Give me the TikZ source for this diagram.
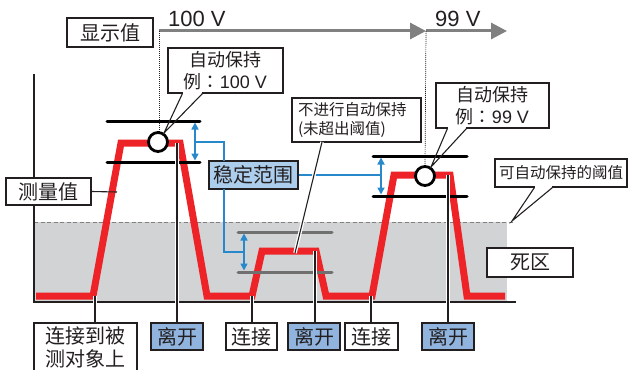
\documentclass[tikz,border=0pt]{standalone}
\usepackage{fontspec}
\setmainfont{Noto Sans CJK SC}
\newfontfamily\hv{Liberation Sans}
\newfontfamily\jpf{Noto Sans CJK JP}
\usetikzlibrary{arrows.meta,calc}
\definecolor{redl}{RGB}{237,35,39}
\definecolor{bluel}{RGB}{40,136,204}
\definecolor{fillA}{RGB}{172,206,236}
\definecolor{fillB}{RGB}{145,180,222}
\definecolor{graybg}{RGB}{209,211,212}
\definecolor{grayar}{RGB}{128,128,128}
\definecolor{graylim}{RGB}{112,112,112}
\definecolor{ink}{RGB}{35,31,32}
\begin{document}
\begin{tikzpicture}[x=1pt,y=-1pt,
  lbl/.style={draw=ink, line width=1.2pt, fill=white, inner sep=0pt, text=ink, font=\fontsize{20}{23}\selectfont},
  lblb/.style={lbl, fill=fillB},
  smalltxt/.style={font=\fontsize{15.5}{19}\selectfont},
  midtxt/.style={font=\fontsize{18}{22}\selectfont},
  redpath/.style={draw=redl, line width=7pt, line join=miter},
  refline/.style={line width=3pt, line cap=round},
  bluearr/.style={draw=bluel, line width=1.6pt, {Triangle[length=7pt,width=7pt]}-{Triangle[length=7pt,width=7pt]}},
  blueln/.style={draw=bluel, line width=1.8pt},
  leader/.style={draw=ink, line width=1.1pt, preaction={draw=white, line width=3.6pt}},
  callt/.style={draw=ink, line width=1.1pt, line join=miter},
  hold/.style={circle, draw=black, line width=2.8pt, fill=white, minimum size=19pt, inner sep=0pt},
  toparr/.style={draw=grayar, line width=3pt, -{Triangle[length=16pt,width=16pt]}},
]
\useasboundingbox (0,0) rectangle (631,369);
\fill[white] (0,0) rectangle (631,369);
% dead band
\fill[graybg] (34,222) rectangle (507,302);
\coordinate (th0) at (34,222);
\coordinate (th1) at (513,222);
\draw[gray, line width=0.8pt, dash pattern=on 4pt off 2.5pt] (th0) -- (th1);
% axes
\coordinate (ay) at (34,74);
\coordinate (ao) at (34,302);
\coordinate (ax) at (516,302);
\draw[ink, line width=2pt] (ay) -- (ao) -- (ax);
% display arrows
\coordinate (arr0) at (159,31);
\coordinate (arr1) at (426,31);
\coordinate (arr2) at (507,31);
\draw[toparr] (arr0) -- (arr1);
\draw[toparr] (arr1) -- (arr2);
\node[anchor=base west, inner sep=0pt, text=ink, font=\hv\fontsize{22}{24}\selectfont] (v100) at (168,27) {100 V};
\node[anchor=base west, inner sep=0pt, text=ink, font=\hv\fontsize{22}{24}\selectfont] (v99) at (435,27) {99 V};
% hold circles positions
\coordinate (hc1) at (158,142);
\coordinate (hc2) at (425,176);
\draw[ink, line width=0.7pt, dash pattern=on 1pt off 1pt] (arr0) -- (159,132);
\draw[ink, line width=0.7pt, dash pattern=on 1pt off 1pt] (arr1) -- (425,166);
% stable range box
\node[lbl, fill=fillA, minimum width=89pt, minimum height=28pt] (stab) at (253.5,175) {稳定范围};
% blue connectors
\coordinate (ba1) at (195,142);
\coordinate (ba2) at (244,252);
\coordinate (ba3) at (381,175);
\draw[blueln] (ba1) -- (224,142) -- (224,161);
\draw[blueln] (224,189) -- (224,252) -- (ba2);
\draw[blueln] (stab.east) -- (ba3);
% measured value
\draw[redpath] (36,296) -- (93,296) -- (121,143) -- (180,143) -- (207,296) -- (252,296)
  -- (262,251) -- (316,251) -- (326,296) -- (372,296) -- (394,175) -- (450,175)
  -- (467,296) -- (505,296);
% stable range limits
\draw[refline, black] (107,121) -- (200,121);
\draw[refline, black] (107,162) -- (200,162);
\draw[refline, graylim] (238,232) -- (332,232);
\draw[refline, graylim] (238,272) -- (332,272);
\draw[refline, black] (373,156) -- (467,156);
\draw[refline, black] (373,196) -- (467,196);
\draw[bluearr] (195,122.5) -- (195,160.5);
\draw[bluearr] (244,233.5) -- (244,270.5);
\draw[bluearr] (381,157.5) -- (381,194.5);
\node[hold] (h1) at (hc1) {};
\node[hold] (h2) at (hc2) {};
% bottom labels
\node[lbl, minimum width=103pt, minimum height=49pt, align=center] (b1) at (85.5,347.5) {连接到被\\测对象上};
\node[lblb, minimum width=52pt, minimum height=27pt] (b2) at (177,336.5) {离开};
\node[lbl, minimum width=51pt, minimum height=27pt] (b3) at (251.5,336.5) {连接};
\node[lblb, minimum width=52pt, minimum height=27pt] (b4) at (314,336.5) {离开};
\node[lbl, minimum width=53pt, minimum height=27pt] (b5) at (371.5,336.5) {连接};
\node[lblb, minimum width=52pt, minimum height=27pt] (b6) at (448,336.5) {离开};
\coordinate (p1) at (95,296);
\coordinate (p2) at (177,143);
\coordinate (p3) at (252,296);
\coordinate (p4) at (315,251);
\coordinate (p5) at (371,296);
\coordinate (p6) at (448,175);
\draw[leader] (p1) -- (p1 |- b1.north);
\draw[leader] (p2) -- (p2 |- b2.north);
\draw[leader] (p3) -- (p3 |- b3.north);
\draw[leader] (p4) -- (p4 |- b4.north);
\draw[leader] (p5) -- (p5 |- b5.north);
\draw[leader] (p6) -- (p6 |- b6.north);
% other labels
\node[lbl, minimum width=86pt, minimum height=29pt] (disp) at (110,32.5) {显示值};
\node[lbl, minimum width=85pt, minimum height=27pt] (meas) at (48.5,191.5) {测量值};
\coordinate (mp) at (117,192);
\draw[ink, line width=1.1pt] (meas.east) -- (mp);
\node[lbl, minimum width=86pt, minimum height=29pt] (dead) at (530,262.5) {死区};
% no-hold note
\node[lbl, smalltxt, minimum width=129pt, minimum height=44pt, align=left, text width=117pt] (nh) at (356.5,120) {不进行自动保持\\(未超出阈值)};
\coordinate (q1) at (322,142);
\coordinate (q2) at (295,253);
\draw[leader] (q1) -- (q2);
% callout 1
\node[lbl, midtxt, minimum width=115pt, minimum height=45pt, align=center] (c1) at (225.5,70.5) {自动保持\\例{\jpf ：}{\hv 100 V}};
\coordinate (g11) at ($(c1.south west)+(15,0)$);
\coordinate (g12) at ($(c1.south west)+(35,0)$);
\coordinate (t1) at (164,133);
\fill[white] ($(g11)+(0.7,-1.5)$) rectangle ($(g12)+(-0.7,1.5)$);
\draw[callt] (g11) -- (t1) -- (g12);
% callout 2
\node[lbl, midtxt, minimum width=113pt, minimum height=45pt, align=center] (c2) at (492.5,105.5) {自动保持\\例{\jpf ：}{\hv 99 V}};
\coordinate (g21) at ($(c2.south west)+(12,0)$);
\coordinate (g22) at ($(c2.south west)+(31,0)$);
\coordinate (t2) at (431,167);
\fill[white] ($(g21)+(0.7,-1.5)$) rectangle ($(g22)+(-0.7,1.5)$);
\draw[callt] (g21) -- (t2) -- (g22);
% threshold callout
\node[lbl, smalltxt, minimum width=132pt, minimum height=28pt] (thr) at (561,173) {可自动保持的阈值};
\coordinate (g31) at ($(thr.south west)+(40,0)$);
\coordinate (g32) at ($(thr.south west)+(58,0)$);
\coordinate (t3) at (512,221);
\fill[white] ($(g31)+(0.7,-1.5)$) rectangle ($(g32)+(-0.7,1.5)$);
\draw[callt] (g31) -- (t3) -- (g32);
\end{tikzpicture}
\end{document}
